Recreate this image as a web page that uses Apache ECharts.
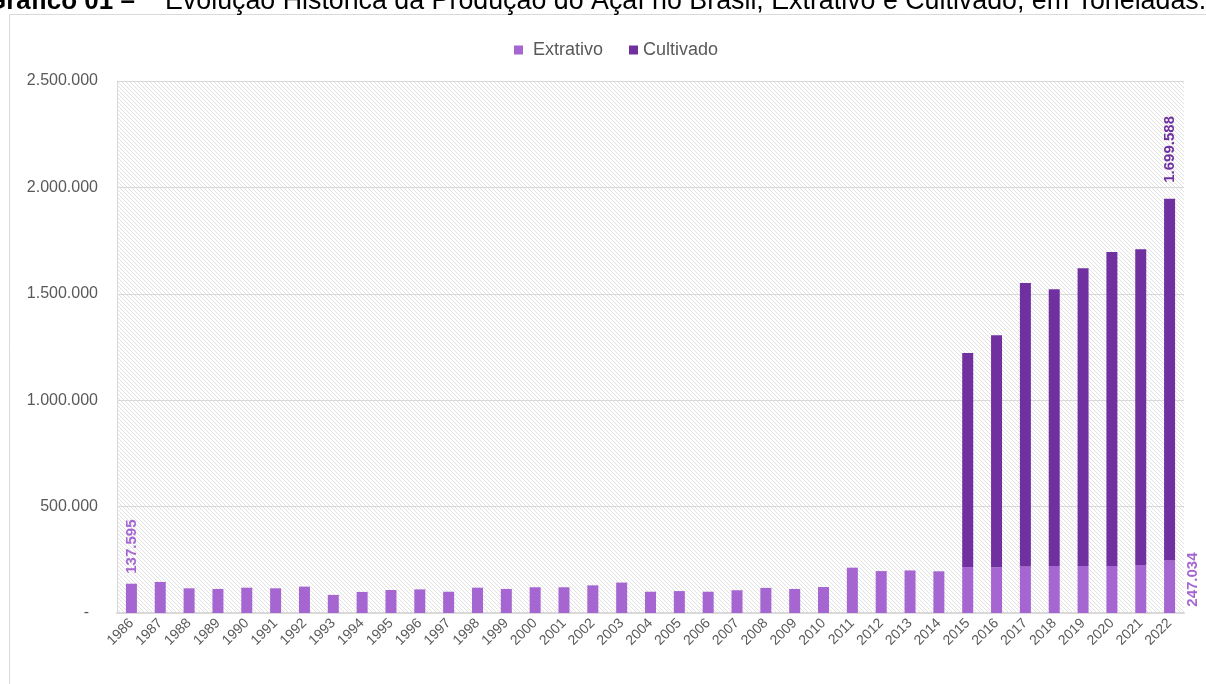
<!DOCTYPE html>
<html>
<head>
<meta charset="utf-8">
<script src="https://cdn.jsdelivr.net/npm/echarts@6/dist/echarts.min.js"></script>
<style>
html,body{margin:0;padding:0;background:#fff;}
#chart{width:1206px;height:684px;}
</style>
</head>
<body>
<div id="chart"></div>
<script>
const years = ['1986','1987','1988','1989','1990','1991','1992','1993','1994','1995','1996','1997','1998','1999','2000','2001','2002','2003','2004','2005','2006','2007','2008','2009','2010','2011','2012','2013','2014','2015','2016','2017','2018','2019','2020','2021','2022'];
const extrativo = [137595,146000,116000,113000,119000,116000,124000,85000,99000,108000,111000,100000,119000,113000,121000,121000,130000,143000,100000,103000,100000,107000,118000,113000,122000,213000,197000,200000,196000,216000,215000,219000,221000,221000,221000,226000,247034];
const cultivado = [null,null,null,null,null,null,null,null,null,null,null,null,null,null,null,null,null,null,null,null,null,null,null,null,null,null,null,null,null,1006000,1090000,1332000,1300000,1399000,1475000,1483000,1699588];
const yTicks = [0,500000,1000000,1500000,2000000,2500000];
const seriesNames = ['Extrativo','Cultivado'];
const titleBold = 'Gráfico 01 –';
const titleRest = 'Evolução Histórica da Produção do Açaí no Brasil, Extrativo e Cultivado, em Toneladas.';

const C_EXT = '#a566d1';
const C_CUL = '#7030a0';

function fmt(v){ return String(Math.round(v)).replace(/\B(?=(\d{3})+(?!\d))/g,'.'); }

// hatch pattern
const pc = document.createElement('canvas');
pc.width = 4; pc.height = 4;
const pctx = pc.getContext('2d');
pctx.fillStyle = '#ffffff'; pctx.fillRect(0,0,4,4);
pctx.fillStyle = '#e1e1e1';
for (let i=0;i<4;i++){ pctx.fillRect(i,i,1,1); }

const lastIdx = years.length - 1;
const extData = extrativo.map((v,i)=>{
  if (i===0) return {value:v, label:{show:true, position:'top', distance:10, rotate:90, align:'left', verticalAlign:'middle'}};
  if (i===lastIdx) return {value:v, label:{show:true, position:['260%','88%'], rotate:90, align:'left', verticalAlign:'middle'}};
  return v;
});
const culData = cultivado.map((v,i)=>{
  if (i===lastIdx) return {value:v, label:{show:true, position:'top', distance:16, rotate:90, align:'left', verticalAlign:'middle'}};
  return v;
});

const legendBase = {top:41, padding:0, icon:'rect', itemWidth:9, itemHeight:9,
  textStyle:{fontSize:18, color:'#595959', fontFamily:'Liberation Sans'}};

const chart = echarts.init(document.getElementById('chart'), null, {renderer:'canvas'});
chart.setOption({
  animation:false,
  textStyle:{fontFamily:'Liberation Sans, Arial, sans-serif'},
  graphic:[
    {type:'rect', silent:true, z:-10, shape:{x:9.5,y:14.5,width:1240,height:700}, style:{fill:'#fff', stroke:'#d9d9d9', lineWidth:1}},
    {type:'text', silent:true, style:{x:-14, y:15, text:titleBold, font:'bold 26px "Liberation Sans", Arial, sans-serif', fill:'#000', verticalAlign:'bottom'}},
    {type:'text', silent:true, style:{x:165, y:15, text:titleRest, font:'26.8px "Liberation Sans", Arial, sans-serif', fill:'#000', verticalAlign:'bottom'}}
  ],
  legend:[
    Object.assign({}, legendBase, {data:[seriesNames[0]], left:514, textStyle:Object.assign({}, legendBase.textStyle, {padding:[0,0,0,5]})}),
    Object.assign({}, legendBase, {data:[seriesNames[1]], left:629})
  ],
  grid:{left:117, right:22, top:81, bottom:71, show:true, borderWidth:0, backgroundColor:{image:pc, repeat:'repeat'}},
  xAxis:{
    type:'category', data:years,
    axisLine:{show:true, lineStyle:{color:'#d9d9d9', width:2}},
    axisTick:{show:false},
    axisLabel:{interval:0, rotate:45, fontSize:14, color:'#595959', margin:8, fontFamily:'Liberation Sans'}
  },
  yAxis:{
    type:'value', min:yTicks[0], max:yTicks[yTicks.length-1], interval:yTicks[1]-yTicks[0],
    axisLine:{show:true, lineStyle:{color:'#d9d9d9', width:1}},
    axisTick:{show:false},
    splitLine:{show:true, lineStyle:{color:'#d9d9d9', width:1}},
    axisLabel:{fontSize:16, color:'#595959', margin:19, fontFamily:'Liberation Sans', formatter:v=> v===0 ? '-  ' : fmt(v)}
  },
  series:[
    {name:seriesNames[0], type:'bar', stack:'t', barWidth:11, data:extData, itemStyle:{color:C_EXT},
     label:{show:false, color:C_EXT, fontWeight:'bold', fontSize:15, fontFamily:'Liberation Sans', formatter:p=>fmt(p.value)}},
    {name:seriesNames[1], type:'bar', stack:'t', barWidth:11, data:culData, itemStyle:{color:C_CUL},
     label:{show:false, color:C_CUL, fontWeight:'bold', fontSize:15, fontFamily:'Liberation Sans', formatter:p=>fmt(p.value)}}
  ]
});
</script>
</body>
</html>
